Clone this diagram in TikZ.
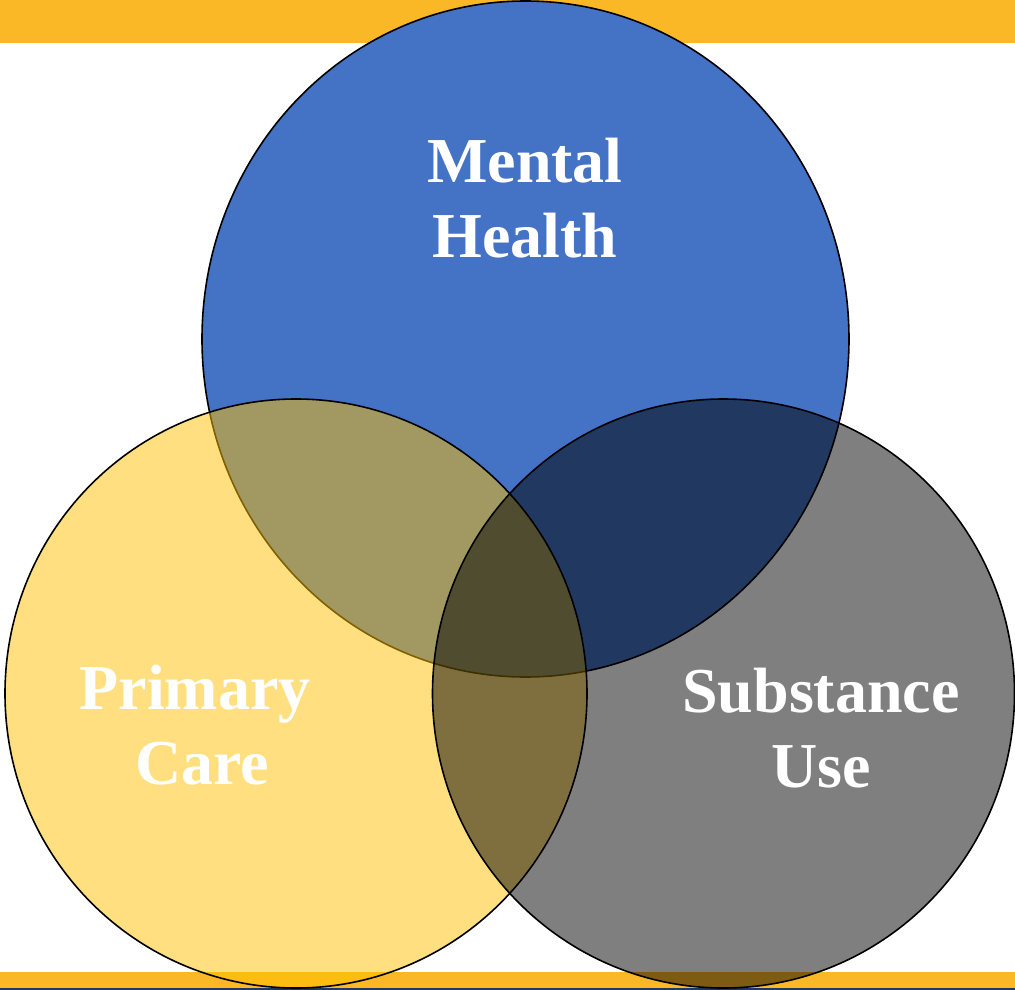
\documentclass[tikz,border=0pt]{standalone}
\usepackage{fontspec}
\setmainfont{Liberation Serif}
\usepackage{xcolor}
\usepackage{tikz}
\usetikzlibrary{positioning}

\definecolor{barGold}{HTML}{FBB826}
\definecolor{lineNavy}{HTML}{1F3864}
\definecolor{mhBlue}{HTML}{4472C4}
\definecolor{pcGold}{HTML}{FFC000}

\begin{document}
\begin{tikzpicture}[x=1pt, y=-1pt]
    \tikzstyle{every node}=[text=white, align=center, font=\bfseries\fontsize{64}{75}\selectfont];
    \tikzstyle{ring}=[draw=black, line width=1.6pt];
    \useasboundingbox (0,0) rectangle (1015,990);
    % bars
    \path[fill=barGold] (0,0) rectangle (1015,43);
    \path[fill=barGold] (0,972) rectangle (1015,988);
    \path[fill=lineNavy] (0,988) rectangle (1015,990);
    % circles
    \path[ring, fill=mhBlue] (525.5,339) ellipse [x radius=323.5, y radius=338];
    \path[ring, fill=pcGold, fill opacity=0.5] (296,693.5) ellipse [x radius=291, y radius=294.5];
    \path[ring, fill=black, fill opacity=0.5] (723.5,693.5) ellipse [x radius=291, y radius=294.5];
    % labels
    \node (mh) at (525,198) {Mental\\Health};
    \node (pc) at (195,725) {Primary\\\hspace{14pt}Care};
    \node (su) at (821,728) {Substance\\Use};
\end{tikzpicture}
\end{document}
